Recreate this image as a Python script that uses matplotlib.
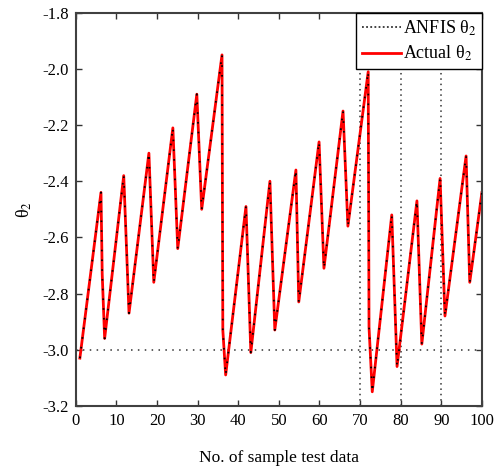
import matplotlib
matplotlib.use("Agg")
import matplotlib.pyplot as plt
from matplotlib.lines import Line2D

plt.rcParams['font.family'] = ['Liberation Serif', 'DejaVu Serif']
plt.rcParams['mathtext.fontset'] = 'stix'
plt.rcParams['axes.unicode_minus'] = False

# vertices of the sawtooth
sample_x = [1.0, 6.2, 6.5, 7.1, 11.8, 13.1, 18.0, 19.2, 23.9, 25.1, 29.8, 31.0,
            36.0, 36.2, 36.9, 41.9, 43.1, 47.8, 49.0, 54.2, 54.9, 59.9, 61.1,
            65.8, 67.0, 72.0, 72.2, 73.0, 77.8, 79.1, 84.0, 85.2, 89.7, 90.9,
            96.1, 97.0, 100.0]
actual_theta2 = [-3.03, -2.44, -2.73, -2.96, -2.38, -2.87, -2.30, -2.76, -2.21, -2.64,
                 -2.09, -2.50, -1.95, -2.93, -3.09, -2.49, -3.01, -2.40, -2.93,
                 -2.36, -2.83, -2.26, -2.71, -2.15, -2.56, -2.01, -2.92, -3.15,
                 -2.52, -3.06, -2.47, -2.98, -2.39, -2.88, -2.31, -2.76, -2.44]
anfis_theta2 = list(actual_theta2)
ref_level = -3.0
ref_x = [70, 80, 90]

xticks = [0, 10, 20, 30, 40, 50, 60, 70, 80, 90, 100]
yticks = [-3.2, -3.0, -2.8, -2.6, -2.4, -2.2, -2.0, -1.8]

fig = plt.figure(figsize=(5.02, 4.73), dpi=100)
ax = fig.add_axes([0.151, 0.142, 0.809, 0.831])

l_act, = ax.plot(sample_x, actual_theta2, color='#ff0000', lw=2.0, zorder=2)
ax.plot(sample_x, anfis_theta2, color='black', lw=1.3,
        linestyle=(0, (0.9, 4.5)), zorder=3)
ax.axhline(ref_level, color='#333333', lw=1.1, linestyle=(0, (1, 3.5)), zorder=1)
for xv in ref_x:
    ax.axvline(xv, color='#333333', lw=1.1, linestyle=(0, (1, 2.5)), zorder=1)

ax.set_xlim(0, 100)
ax.set_ylim(-3.2, -1.8)
ax.set_xticks(xticks)
ax.set_yticks(yticks)
ax.set_yticklabels(['%.1f' % v for v in yticks])
ax.tick_params(direction='in', top=True, right=True, length=4, width=1,
               labelsize=12, color='#333333', pad=5)
for s in ax.spines.values():
    s.set_linewidth(1.5)
    s.set_color('#404040')

ax.set_xlabel('No. of sample test data', fontsize=12.5, labelpad=15)
ax.set_ylabel(r'θ$_2$', fontsize=13, labelpad=6)

anf_handle = Line2D([], [], color='#333333', lw=1.3, linestyle=(0, (1, 1.3)))
leg = ax.legend([anf_handle, l_act], [r'ANFIS θ$_2$', r'Actual θ$_2$'],
                loc='upper right', borderaxespad=0, fancybox=False,
                edgecolor='black', framealpha=1, fontsize=13,
                handlelength=2.2, handletextpad=0.1, borderpad=0.3,
                labelspacing=0.35)
leg.get_frame().set_linewidth(1.0)

fig.savefig('out.png', dpi=100)
